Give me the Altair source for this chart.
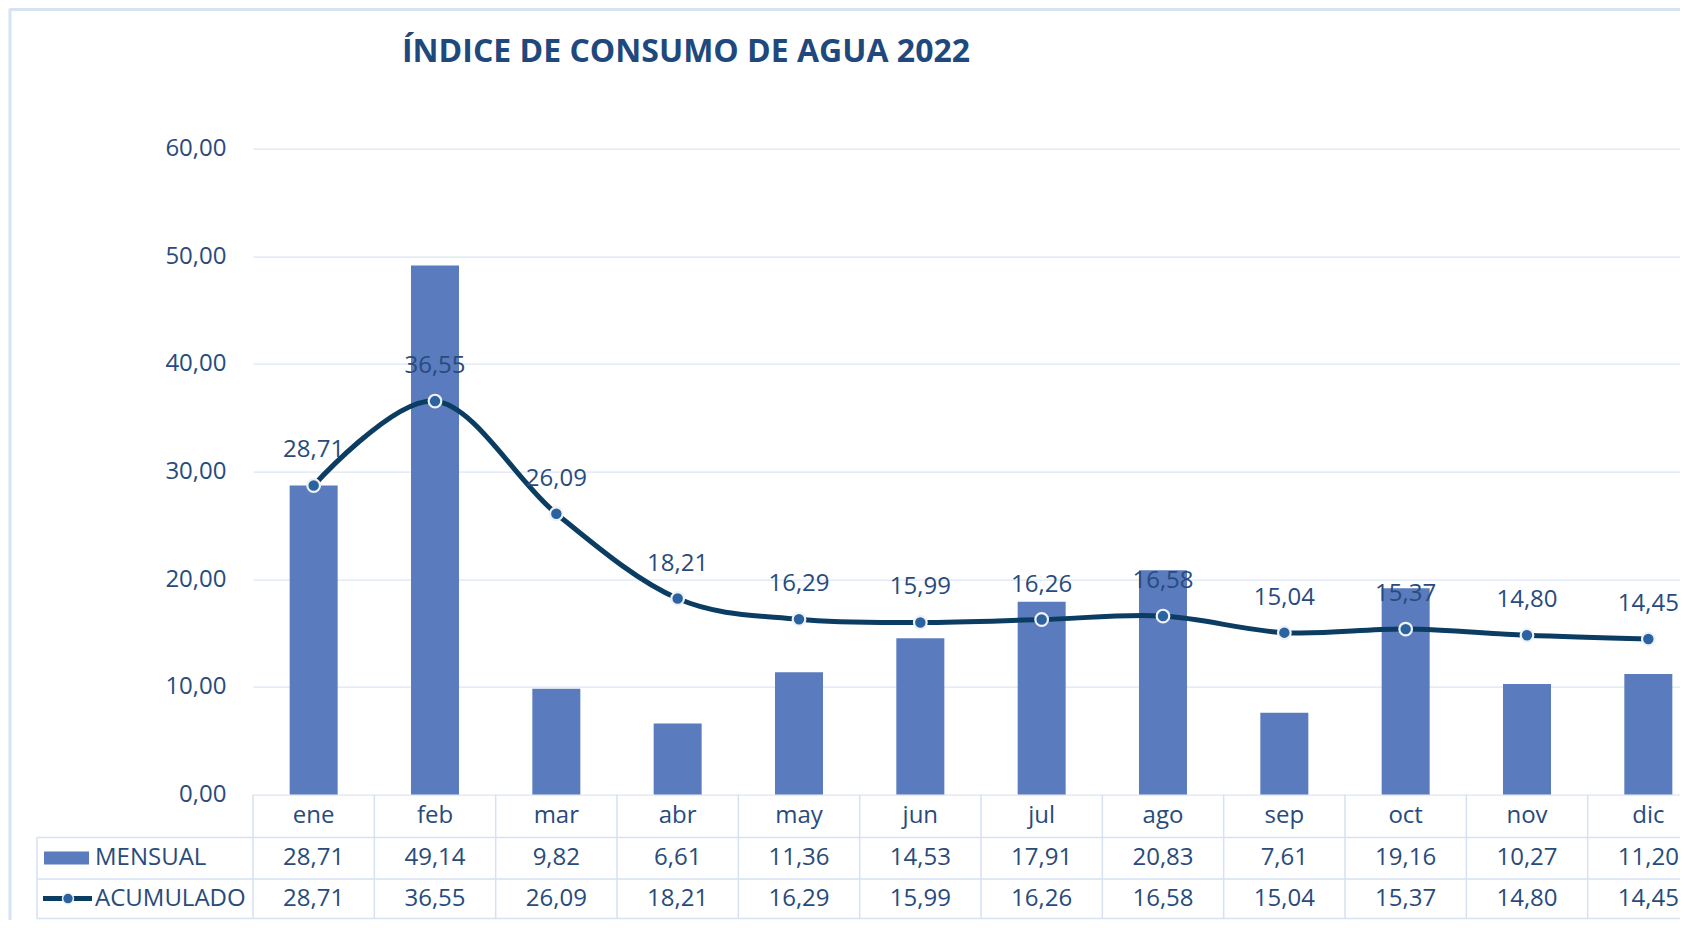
import altair as alt
import pandas as pd

# ---------------- data ----------------
months = ["ene", "feb", "mar", "abr", "may", "jun", "jul", "ago", "sep", "oct", "nov", "dic"]
mensual = [28.71, 49.14, 9.82, 6.61, 11.36, 14.53, 17.91, 20.83, 7.61, 19.16, 10.27, 11.20]
acumulado = [28.71, 36.55, 26.09, 18.21, 16.29, 15.99, 16.26, 16.58, 15.04, 15.37, 14.80, 14.45]
y_ticks = [0, 10, 20, 30, 40, 50, 60]
title_text = "ÍNDICE DE CONSUMO DE AGUA 2022"
series_names = ["MENSUAL", "ACUMULADO"]

df = pd.DataFrame({"mes": months, "mensual": mensual, "acumulado": acumulado})

# ---------------- style ----------------
FONT = "Open Sans"
TXT = "#284B7C"
TITLE_C = "#1F497D"
BAR = "#5A7BBE"
LINE = "#0B3D62"
PT = "#2B63A0"
GRID = "#DCE5F4"
TBL = "#D6E1F2"
FRAME = "#D7E3F4"

PLOT_W = 1427
PLOT_H = 646
FS = 24
XR = 1456

fmt = "replace(format({}, '.2f'), '.', ',')"

xscale = alt.Scale(domain=months, range=[0, XR], paddingInner=0, paddingOuter=0)
X = alt.X("mes:N", scale=xscale, sort=months, axis=None)
yscale = alt.Scale(domain=[0, 60], nice=False, zero=True)

base = alt.Chart(df).transform_calculate(
    m_lab=fmt.format("datum.mensual"),
    a_lab=fmt.format("datum.acumulado"),
)

bars = base.mark_bar(size=48, color=BAR).encode(
    x=X,
    y=alt.Y(
        "mensual:Q",
        scale=yscale,
        axis=alt.Axis(
            values=y_ticks,
            labelExpr=fmt.format("datum.value"),
            grid=True,
            gridColor=GRID,
            gridWidth=1.3,
            domain=False,
            ticks=False,
            labelPadding=27,
            labelFontSize=FS,
            labelFont=FONT,
            labelColor=TXT,
            title=None,
        ),
    ),
)

line = base.mark_line(interpolate="cardinal", color=LINE, strokeWidth=5).encode(
    x=X, y=alt.Y("acumulado:Q", scale=yscale)
)
points = base.mark_point(
    filled=True, size=160, fill=PT, stroke="#EEF2F8", strokeWidth=2.2, opacity=1
).encode(x=X, y=alt.Y("acumulado:Q", scale=yscale))
point_labels = base.mark_text(dy=-35, fontSize=FS, font=FONT, color=TXT).encode(
    x=X, y=alt.Y("acumulado:Q", scale=yscale), text="a_lab:N"
)

# ---------------- data table ----------------
ROW_CAT = 667.4
ROW_M = 709.4
ROW_A = 750.0
LINE_1 = 689
LINE_2 = 730.4
LINE_3 = 770

cat_text = base.mark_text(fontSize=FS, font=FONT, color=TXT, baseline="middle").encode(
    x=X, y=alt.value(ROW_CAT), text="mes:N"
)
m_text = base.mark_text(fontSize=FS, font=FONT, color=TXT, baseline="middle").encode(
    x=X, y=alt.value(ROW_M), text="m_lab:N"
)
a_text = base.mark_text(fontSize=FS, font=FONT, color=TXT, baseline="middle").encode(
    x=X, y=alt.value(ROW_A), text="a_lab:N"
)
vsep = base.mark_rule(color=TBL, strokeWidth=1.5).encode(
    x=alt.X("mes:N", scale=xscale, sort=months, axis=None, bandPosition=0),
    y=alt.value(PLOT_H),
    y2=alt.value(LINE_3),
)

one = alt.Chart(pd.DataFrame({"k": [0]}))

hlines = [
    one.mark_rule(color=TBL, strokeWidth=1.5).encode(
        x=alt.value(-216), x2=alt.value(XR), y=alt.value(yy)
    )
    for yy in (LINE_1, LINE_2, LINE_3)
]
left_border = one.mark_rule(color=TBL, strokeWidth=1.5).encode(
    x=alt.value(-216), y=alt.value(LINE_1), y2=alt.value(LINE_3)
)

leg_rect = one.mark_rect(color=BAR).encode(
    x=alt.value(-209), x2=alt.value(-164), y=alt.value(ROW_M - 6.5), y2=alt.value(ROW_M + 6.5)
)
leg_line = one.mark_rule(color=LINE, strokeWidth=5).encode(
    x=alt.value(-210), x2=alt.value(-161), y=alt.value(ROW_A)
)
leg_pt = one.mark_point(
    filled=True, size=120, fill=PT, stroke="#EEF2F8", strokeWidth=1.5, opacity=1
).encode(x=alt.value(-185), y=alt.value(ROW_A))
leg_m = one.mark_text(
    text=series_names[0], align="left", baseline="middle", fontSize=FS, font=FONT, color=TXT
).encode(x=alt.value(-158), y=alt.value(ROW_M))
leg_a = one.mark_text(
    text=series_names[1], align="left", baseline="middle", fontSize=FS, font=FONT, color=TXT
).encode(x=alt.value(-158), y=alt.value(ROW_A))

# ---------------- frame & title ----------------
frame_left = one.mark_rule(color=FRAME, strokeWidth=3).encode(
    x=alt.value(-243), y=alt.value(-140), y2=alt.value(800)
)
frame_top = one.mark_rule(color=FRAME, strokeWidth=3).encode(
    x=alt.value(-243), x2=alt.value(1500), y=alt.value(-139)
)
title = one.mark_text(
    text=title_text, align="center", baseline="middle", fontSize=32, fontWeight="bold",
    font=FONT, color=TITLE_C,
).encode(x=alt.value(433), y=alt.value(-97))

chart = alt.layer(
    frame_left, frame_top, title,
    vsep, *hlines, left_border,
    bars, line, points, point_labels,
    cat_text, m_text, a_text,
    leg_rect, leg_line, leg_pt, leg_m, leg_a,
).properties(
    width=PLOT_W,
    height=PLOT_H,
    autosize=alt.AutoSizeParams(type="none"),
    padding={"left": 245, "top": 140.6, "right": 0, "bottom": 125.4},
).configure_view(stroke=None)

chart.save("out.html", embed_options={"renderer": "svg", "actions": False})
